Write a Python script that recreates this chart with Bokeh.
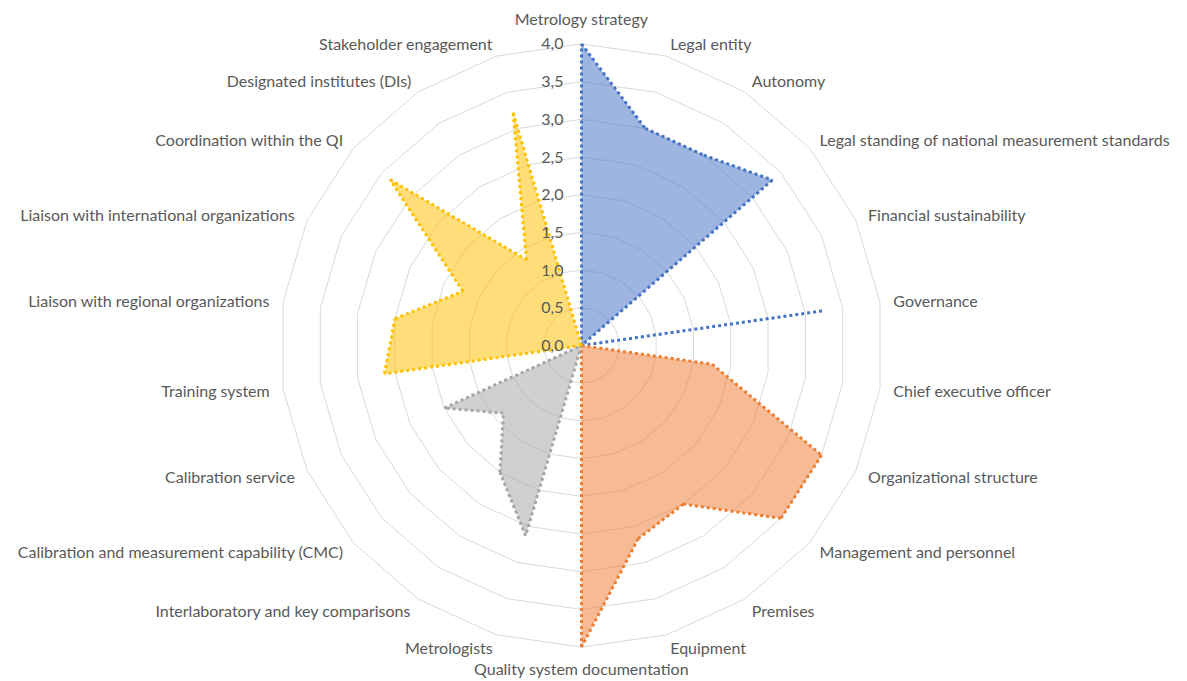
import numpy as np
from bokeh.plotting import figure
from bokeh.models import Range1d, ColumnDataSource
from bokeh.core.properties import value
from bokeh.embed import file_html
from bokeh.resources import INLINE

categories = [
    "Metrology strategy", "Legal entity", "Autonomy",
    "Legal standing of national measurement standards", "Financial sustainability",
    "Governance", "Chief executive officer", "Organizational structure",
    "Management and personnel", "Premises", "Equipment",
    "Quality system documentation", "Metrologists",
    "Interlaboratory and key comparisons",
    "Calibration and measurement capability (CMC)", "Calibration service",
    "Training system", "Liaison with regional organizations",
    "Liaison with international organizations", "Coordination within the QI",
    "Designated institutes (DIs)", "Stakeholder engagement",
]
blue_vals = [4.0, 3.0, 3.0, 3.35, 0, 3.25, 0, 0, 0, 0, 0,
             0, 0, 0, 0, 0, 0, 0, 0, 0, 0, 0]
orange_vals = [0, 0, 0, 0, 0, 0, 1.75, 3.5, 3.5, 2.5, 2.67,
               4.0, 0, 0, 0, 0, 0, 0, 0, 0, 0, 0]
gray_vals = [0, 0, 0, 0, 0, 0, 0, 0, 0, 0, 0,
             0, 2.63, 2.0, 1.37, 2.0, 0, 0, 0, 0, 0, 0]
yellow_vals = [0, 0, 0, 0, 0, 0, 0, 0, 0, 0, 0,
               0, 0, 0, 0, 0, 2.64, 2.5, 1.73, 3.36, 1.35, 3.22]
tick_values = [0.0, 0.5, 1.0, 1.5, 2.0, 2.5, 3.0, 3.5, 4.0]
tick_labels = ["0,0", "0,5", "1,0", "1,5", "2,0", "2,5", "3,0", "3,5", "4,0"]

series = [
    (blue_vals, "#4472C4", "#4472C4"),
    (orange_vals, "#ED7D31", "#ED7D31"),
    (gray_vals, "#A5A5A5", "#A5A5A5"),
    (yellow_vals, "#FFC000", "#FFC000"),
]

N = len(categories)
theta = 2 * np.pi * np.arange(N) / N

W, H = 1187, 681
S = 75.4          # pixels per unit
CX, CY = 581, 345  # centre in frame pixels

p = figure(width=W, height=H, output_backend="svg", toolbar_location=None,
           x_range=Range1d(-CX / S, (W - CX) / S),
           y_range=Range1d(-(H - CY) / S, CY / S),
           min_border=0)
p.axis.visible = False
p.grid.visible = False
p.outline_line_color = None
p.background_fill_color = "white"
p.border_fill_color = "white"

# grid rings
for t in tick_values[1:]:
    xs = list(t * np.sin(theta))
    ys = list(t * np.cos(theta))
    p.line(xs + [xs[0]], ys + [ys[0]], line_color="#D9D9D9", line_width=1)

# series
for vals, fill, line in series:
    v = np.array(vals, dtype=float)
    xs = v * np.sin(theta)
    ys = v * np.cos(theta)
    p.patch(list(xs), list(ys), fill_color=fill, fill_alpha=0.52, line_color=None)
    # outline as unique segments (so spikes stay dotted)
    segs = []
    seen = set()
    for i in range(N):
        j = (i + 1) % N
        a = (round(xs[i], 6), round(ys[i], 6))
        b = (round(xs[j], 6), round(ys[j], 6))
        if a == b or (b, a) in seen:
            continue
        seen.add((a, b))
        segs.append((a, b))
    p.multi_line([[s[0][0], s[1][0]] for s in segs], [[s[0][1], s[1][1]] for s in segs],
                 line_color=line, line_width=3, line_dash="3 3")

# category labels
RL = 315 / S
lx, ly, al, bl = [], [], [], []
for i, th in enumerate(theta):
    s, c = np.sin(th), np.cos(th)
    if abs(s) < 0.05:
        r = (327 if c > 0 else 323) / S
        al.append("center")
    else:
        r = RL
        al.append("left" if s > 0 else "right")
    bl.append("middle")
    lx.append(r * s)
    ly.append(r * c)
src = ColumnDataSource(dict(x=lx, y=ly, t=categories, a=al, b=bl))
p.text("x", "y", text="t", text_align="a", text_baseline="b", source=src,
       text_font=value("Lato"), text_font_size="16px", text_color="#595959")

# value axis labels
tsrc = ColumnDataSource(dict(x=[-18 / S] * len(tick_values), y=tick_values, t=tick_labels))
p.text("x", "y", text="t", source=tsrc, text_align="right", text_baseline="middle",
       text_font=value("Lato"), text_font_size="16px", text_color="#595959")

open("out.html", "w").write(file_html(p, INLINE))
